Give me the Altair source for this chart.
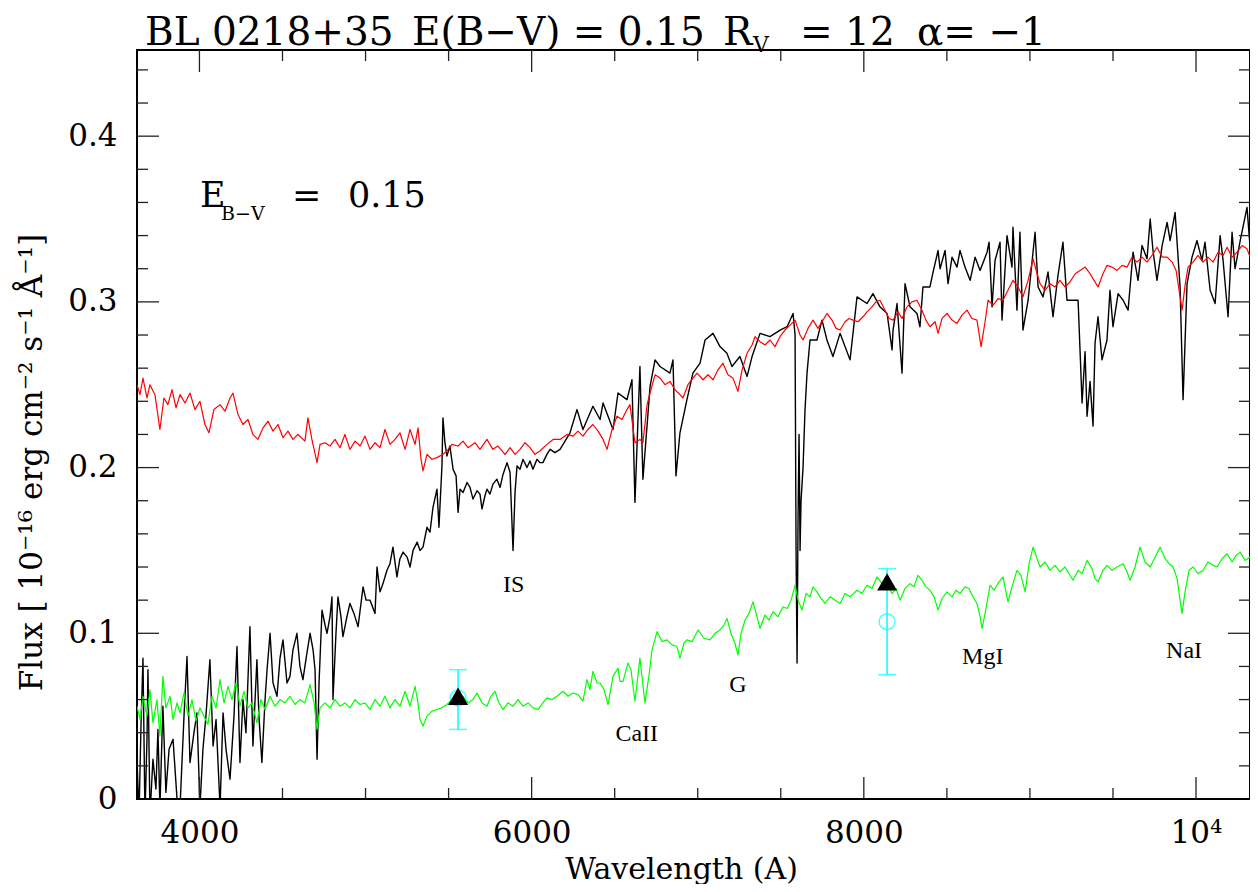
import altair as alt
import pandas as pd

# ---------------- data ----------------
# observed spectrum (wavelength [A], flux)
black_points = [
    (3624,0.024),(3636,-0.01),(3648,0.044),(3660,0.085),(3672,-0.01),(3684,0.036),(3690,0.078),(3702,-0.01),
    (3720,0.024),(3738,0.006),(3750,0.042),(3762,-0.005),(3780,0.056),(3798,0.004),(3817,0.030),(3841,0.036),
    (3865,0.0),(3883,-0.005),(3907,0.05),(3925,0.086),(3943,0.022),(3967,0.040),(3985,0.052),(4003,-0.005),
    (4021,0.030),(4039,0.050),(4063,0.084),(4082,0.032),(4100,0.048),(4124,-0.005),(4142,0.052),(4160,0.030),
    (4184,0.012),(4208,0.050),(4226,0.092),(4244,0.022),(4262,0.060),(4280,0.040),(4304,0.104),(4322,0.032),
    (4346,0.084),(4358,0.050),(4376,0.022),(4395,0.060),(4407,0.078),(4425,0.100),(4443,0.070),(4467,0.062),
    (4485,0.085),(4503,0.096),(4527,0.070),(4545,0.074),(4563,0.090),(4587,0.100),(4605,0.080),(4623,0.072),
    (4647,0.088),(4666,0.100),(4684,0.090),(4696,0.078),(4708,0.024),(4720,0.070),(4738,0.114),(4756,0.105),
    (4768,0.100),(4786,0.110),(4798,0.122),(4804,0.060),(4822,0.100),(4834,0.122),(4852,0.110),(4864,0.098),
    (4888,0.110),(4906,0.118),(4930,0.112),(4955,0.104),(4985,0.128),(5003,0.120),(5027,0.120),(5057,0.112),
    (5069,0.140),(5087,0.125),(5105,0.130),(5129,0.138),(5147,0.142),(5165,0.152),(5189,0.134),(5207,0.145),
    (5226,0.149),(5250,0.146),(5268,0.140),(5286,0.150),(5311,0.155),(5328,0.150),(5346,0.152),(5370,0.164),
    (5388,0.161),(5406,0.176),(5430,0.187),(5442,0.164),(5460,0.201),(5466,0.230),(5478,0.215),(5490,0.207),
    (5508,0.213),(5527,0.199),(5545,0.195),(5557,0.173),(5569,0.187),(5587,0.185),(5611,0.191),(5629,0.188),
    (5647,0.181),(5671,0.186),(5689,0.184),(5701,0.175),(5719,0.183),(5731,0.187),(5749,0.184),(5767,0.190),
    (5791,0.193),(5810,0.188),(5828,0.196),(5852,0.203),(5870,0.197),(5888,0.150),(5900,0.185),(5912,0.201),
    (5930,0.199),(5948,0.205),(5972,0.200),(5990,0.204),(6008,0.199),(6032,0.205),(6050,0.203),(6068,0.203),
    (6092,0.208),(6111,0.211),(6140,0.209),(6171,0.211),(6231,0.221),(6273,0.235),(6309,0.223),(6369,0.237),
    (6412,0.229),(6430,0.239),(6490,0.223),(6520,0.245),(6574,0.241),(6604,0.253),(6622,0.179),(6652,0.261),
    (6670,0.193),(6713,0.249),(6743,0.265),(6773,0.261),(6833,0.257),(6851,0.265),(6869,0.195),(6893,0.221),
    (6935,0.241),(6971,0.257),(7014,0.263),(7044,0.277),(7092,0.281),(7134,0.273),(7176,0.269),(7206,0.261),
    (7254,0.267),(7297,0.255),(7327,0.267),(7375,0.281),(7435,0.279),(7496,0.283),(7538,0.285),(7574,0.293),
    (7586,0.280),(7592,0.150),(7598,0.082),(7604,0.170),(7610,0.220),(7616,0.150),(7622,0.180),(7634,0.200),
    (7646,0.235),(7658,0.257),(7676,0.277),(7718,0.277),(7748,0.289),(7778,0.277),(7814,0.267),(7857,0.281),
    (7917,0.265),(7959,0.303),(8019,0.299),(8055,0.305),(8097,0.297),(8140,0.293),(8170,0.271),(8176,0.283),
    (8200,0.299),(8230,0.257),(8248,0.311),(8278,0.297),(8320,0.293),(8338,0.285),(8356,0.309),(8398,0.309),
    (8417,0.318),(8447,0.331),(8459,0.320),(8489,0.331),(8507,0.311),(8531,0.327),(8561,0.321),(8579,0.331),
    (8609,0.321),(8640,0.313),(8670,0.327),(8700,0.319),(8742,0.330),(8754,0.336),(8772,0.297),(8790,0.325),
    (8820,0.336),(8832,0.289),(8862,0.340),(8892,0.321),(8898,0.345),(8922,0.295),(8940,0.342),(8958,0.283),
    (8989,0.301),(9031,0.342),(9049,0.309),(9079,0.303),(9109,0.318),(9139,0.291),(9169,0.316),(9199,0.336),
    (9223,0.301),(9254,0.301),(9290,0.301),(9314,0.239),(9332,0.270),(9344,0.231),(9362,0.252),(9380,0.225),
    (9392,0.275),(9410,0.291),(9434,0.265),(9464,0.277),(9482,0.307),(9500,0.285),(9531,0.305),(9561,0.301),
    (9591,0.295),(9621,0.330),(9651,0.313),(9675,0.334),(9705,0.326),(9724,0.350),(9741,0.331),(9765,0.313),
    (9796,0.334),(9826,0.348),(9844,0.337),(9874,0.354),(9892,0.327),(9904,0.309),(9922,0.241),(9946,0.311),
    (9976,0.327),(10006,0.337),(10036,0.325),(10054,0.336),(10085,0.307),(10115,0.299),(10145,0.340),(10163,0.325),
    (10193,0.291),(10217,0.342),(10235,0.320),(10266,0.337),(10307,0.357),(10337,0.318),(10355,0.333),(10373,0.331),
]

# reddened template (red)
red_points = [
    (3624,0.250),(3642,0.244),(3660,0.254),(3684,0.242),(3702,0.250),(3732,0.244),(3762,0.223),(3786,0.242),
    (3810,0.238),(3835,0.247),(3859,0.236),(3883,0.244),(3913,0.239),(3943,0.245),(3973,0.235),(4003,0.240),
    (4033,0.226),(4057,0.221),(4087,0.235),(4124,0.238),(4154,0.234),(4184,0.242),(4202,0.245),(4232,0.232),
    (4262,0.226),(4292,0.229),(4322,0.220),(4352,0.217),(4383,0.224),(4413,0.228),(4443,0.222),(4473,0.226),
    (4503,0.218),(4533,0.222),(4563,0.217),(4593,0.220),(4635,0.216),(4653,0.230),(4677,0.217),(4708,0.203),
    (4726,0.214),(4756,0.215),(4786,0.213),(4816,0.217),(4846,0.212),(4876,0.220),(4906,0.211),(4937,0.216),
    (4967,0.213),(4997,0.219),(5027,0.211),(5057,0.215),(5087,0.212),(5117,0.223),(5147,0.214),(5177,0.217),
    (5207,0.221),(5238,0.211),(5268,0.223),(5298,0.214),(5316,0.224),(5334,0.205),(5346,0.198),(5370,0.208),
    (5400,0.205),(5430,0.206),(5466,0.208),(5490,0.210),(5520,0.214),(5557,0.213),(5587,0.216),(5617,0.212),
    (5659,0.215),(5689,0.211),(5731,0.217),(5767,0.211),(5797,0.213),(5840,0.208),(5870,0.212),(5900,0.208),
    (5930,0.211),(5960,0.215),(5990,0.212),(6020,0.208),(6050,0.210),(6092,0.214),(6129,0.217),(6171,0.217),
    (6213,0.220),(6249,0.219),(6279,0.222),(6309,0.219),(6339,0.223),(6369,0.226),(6400,0.222),(6430,0.217),
    (6454,0.211),(6484,0.223),(6514,0.231),(6544,0.229),(6574,0.235),(6592,0.238),(6622,0.215),(6652,0.217),
    (6670,0.215),(6695,0.238),(6713,0.245),(6743,0.256),(6773,0.254),(6803,0.250),(6833,0.252),(6863,0.247),
    (6893,0.244),(6911,0.242),(6941,0.250),(6971,0.254),(6996,0.257),(7032,0.253),(7062,0.256),(7092,0.253),
    (7122,0.259),(7152,0.263),(7182,0.256),(7212,0.254),(7242,0.246),(7267,0.259),(7297,0.269),(7327,0.274),
    (7345,0.279),(7375,0.276),(7405,0.274),(7435,0.277),(7465,0.273),(7495,0.279),(7525,0.283),(7556,0.286),
    (7586,0.289),(7616,0.280),(7634,0.277),(7664,0.284),(7694,0.289),(7724,0.284),(7754,0.289),(7778,0.293),
    (7808,0.289),(7833,0.284),(7857,0.283),(7887,0.288),(7911,0.290),(7935,0.289),(7965,0.288),(7995,0.291),
    (8019,0.294),(8049,0.297),(8073,0.300),(8097,0.301),(8128,0.295),(8152,0.290),(8176,0.289),(8206,0.294),
    (8230,0.290),(8260,0.297),(8290,0.300),(8320,0.301),(8350,0.295),(8374,0.289),(8398,0.285),(8429,0.288),
    (8447,0.281),(8471,0.290),(8501,0.293),(8531,0.289),(8561,0.287),(8591,0.292),(8621,0.295),(8651,0.290),
    (8681,0.289),(8706,0.273),(8730,0.288),(8748,0.301),(8778,0.298),(8808,0.302),(8838,0.301),(8868,0.307),
    (8898,0.313),(8928,0.309),(8958,0.303),(8989,0.313),(9019,0.326),(9043,0.317),(9061,0.311),(9091,0.307),
    (9121,0.311),(9151,0.309),(9181,0.313),(9211,0.309),(9241,0.312),(9272,0.317),(9302,0.319),(9332,0.321),
    (9362,0.317),(9386,0.313),(9410,0.309),(9440,0.317),(9464,0.322),(9494,0.321),(9524,0.319),(9555,0.322),
    (9585,0.321),(9615,0.327),(9645,0.324),(9675,0.327),(9705,0.324),(9735,0.328),(9765,0.333),(9796,0.327),
    (9826,0.327),(9856,0.324),(9880,0.319),(9898,0.307),(9916,0.295),(9934,0.310),(9952,0.321),(9982,0.324),
    (10012,0.328),(10042,0.324),(10072,0.327),(10103,0.324),(10133,0.330),(10163,0.328),(10187,0.333),(10217,0.327),
    (10247,0.330),(10277,0.334),(10307,0.332),(10337,0.324),(10367,0.318),
]

# host template (green)
green_points = [
    (3624,0.056),(3642,0.048),(3660,0.062),(3684,0.050),(3702,0.066),(3720,0.046),(3744,0.060),(3762,0.038),
    (3780,0.074),(3798,0.055),(3823,0.062),(3841,0.048),(3865,0.058),(3883,0.052),(3907,0.064),(3931,0.050),
    (3955,0.060),(3979,0.047),(4003,0.055),(4027,0.050),(4051,0.045),(4075,0.062),(4100,0.055),(4124,0.072),
    (4148,0.058),(4172,0.068),(4196,0.060),(4220,0.070),(4244,0.056),(4268,0.065),(4292,0.055),(4316,0.058),
    (4346,0.046),(4370,0.060),(4395,0.054),(4425,0.062),(4455,0.056),(4485,0.060),(4515,0.058),(4545,0.062),
    (4575,0.057),(4605,0.060),(4635,0.058),(4666,0.069),(4690,0.058),(4708,0.042),(4726,0.055),(4756,0.058),
    (4786,0.055),(4816,0.060),(4846,0.056),(4876,0.058),(4906,0.055),(4937,0.060),(4967,0.057),(4997,0.058),
    (5027,0.054),(5057,0.060),(5087,0.056),(5117,0.062),(5147,0.055),(5177,0.060),(5207,0.056),(5238,0.065),
    (5268,0.056),(5298,0.068),(5316,0.058),(5328,0.048),(5346,0.044),(5370,0.050),(5400,0.053),(5430,0.054),
    (5460,0.055),(5490,0.057),(5520,0.060),(5557,0.061),(5587,0.062),(5617,0.058),(5647,0.060),(5671,0.064),
    (5701,0.058),(5731,0.056),(5755,0.062),(5779,0.065),(5803,0.058),(5828,0.054),(5858,0.058),(5888,0.056),
    (5918,0.060),(5948,0.056),(5978,0.058),(6008,0.055),(6038,0.054),(6068,0.058),(6092,0.061),(6123,0.060),
    (6153,0.062),(6189,0.065),(6219,0.062),(6249,0.064),(6279,0.063),(6309,0.059),(6333,0.072),(6351,0.066),
    (6369,0.077),(6394,0.070),(6412,0.070),(6436,0.066),(6460,0.057),(6490,0.074),(6520,0.079),(6532,0.071),
    (6550,0.071),(6580,0.082),(6598,0.078),(6622,0.059),(6652,0.085),(6682,0.058),(6707,0.075),(6725,0.090),
    (6755,0.101),(6785,0.095),(6815,0.096),(6845,0.093),(6875,0.092),(6893,0.085),(6917,0.094),(6935,0.096),
    (6966,0.095),(7002,0.102),(7038,0.097),(7074,0.096),(7104,0.100),(7134,0.102),(7158,0.105),(7176,0.109),
    (7200,0.100),(7224,0.094),(7242,0.087),(7261,0.100),(7285,0.108),(7309,0.112),(7333,0.119),(7357,0.110),
    (7375,0.103),(7405,0.111),(7429,0.108),(7453,0.113),(7483,0.110),(7513,0.116),(7538,0.115),(7562,0.120),
    (7586,0.129),(7604,0.120),(7628,0.114),(7652,0.124),(7676,0.122),(7694,0.128),(7718,0.125),(7736,0.122),
    (7766,0.118),(7797,0.122),(7827,0.120),(7857,0.118),(7887,0.124),(7917,0.122),(7959,0.126),(7989,0.124),
    (8019,0.129),(8049,0.127),(8079,0.134),(8110,0.130),(8140,0.130),(8170,0.124),(8194,0.127),(8218,0.120),
    (8248,0.127),(8278,0.130),(8302,0.128),(8326,0.135),(8350,0.132),(8374,0.128),(8398,0.126),(8423,0.122),
    (8447,0.114),(8471,0.121),(8501,0.125),(8531,0.122),(8555,0.126),(8579,0.124),(8609,0.128),(8633,0.127),
    (8657,0.122),(8681,0.118),(8700,0.110),(8712,0.103),(8730,0.112),(8760,0.129),(8784,0.126),(8814,0.131),
    (8838,0.134),(8868,0.119),(8892,0.128),(8922,0.138),(8946,0.135),(8971,0.125),(8995,0.142),(9019,0.152),
    (9043,0.145),(9061,0.140),(9091,0.143),(9121,0.138),(9151,0.141),(9181,0.137),(9211,0.140),(9241,0.135),
    (9260,0.132),(9290,0.138),(9314,0.136),(9344,0.144),(9374,0.139),(9392,0.133),(9410,0.131),(9440,0.138),
    (9464,0.141),(9494,0.138),(9524,0.140),(9561,0.142),(9585,0.137),(9603,0.132),(9633,0.140),(9663,0.152),
    (9693,0.143),(9724,0.140),(9754,0.146),(9784,0.152),(9814,0.145),(9838,0.142),(9862,0.140),(9886,0.133),
    (9904,0.120),(9916,0.112),(9934,0.125),(9958,0.138),(9982,0.140),(10012,0.136),(10042,0.138),(10072,0.143),
    (10103,0.141),(10127,0.140),(10157,0.145),(10187,0.148),(10217,0.143),(10241,0.147),(10266,0.149),(10295,0.144),
    (10326,0.146),(10349,0.150),(10367,0.130),
]

# photometric points with error bars (cyan) and model values (black triangles)
phot_wave = [5557, 8140]
phot_flux = [0.061, 0.107]
phot_lo = [0.042, 0.075]
phot_hi = [0.078, 0.139]
model_flux = [0.062, 0.131]

# absorption line labels
line_names = ["IS", "CaII", "G", "MgI", "NaI"]
line_wave = [5892, 6633, 7242, 8716, 9928]
line_flux = [0.1247, 0.0348, 0.0648, 0.0817, 0.0853]

# E(B-V) annotation pieces
ebv_main_text = ["E", "=", "0.15"]
ebv_main_wave = [4003, 4557, 4894]
ebv_main_flux = [0.3575, 0.3575, 0.3575]
ebv_sub_text = ["B−V"]
ebv_sub_wave = [4130]
ebv_sub_flux = [0.3497]

# title pieces (text)
title_words = ["BL 0218+35", "E(B−V) = 0.15", "R", "= 12", "α= −1"]
title_subscript = "V"

# axis ticks
x_major = [4000, 6000, 8000, 10000]
x_minor = [4500, 5000, 5500, 6500, 7000, 7500, 8500, 9000, 9500]
y_labels = [0, 0.1, 0.2, 0.3, 0.4]
y_major = [0.1, 0.2, 0.3, 0.4]
y_minor = [0.02, 0.04, 0.06, 0.08, 0.12, 0.14, 0.16, 0.18, 0.22, 0.24, 0.26,
           0.28, 0.32, 0.34, 0.36, 0.38, 0.42, 0.44]

# ---------------- chart ----------------
SERIF = "DejaVu Serif"
W, H = 1113, 749
XS = alt.Scale(domain=[3624, 10325], nice=False, zero=False)
YS = alt.Scale(domain=[0, 0.452], nice=False, zero=False)
TICK = "#222222"
CYAN = "#00ffff"

X_AXIS = alt.Axis(
    values=x_major,
    labelExpr="datum.value == 10000 ? '10⁴' : format(datum.value, 'd')",
    ticks=False, tickSize=0, domain=False, grid=False,
    labelFont=SERIF, labelFontSize=31, labelColor="black",
    labelPadding=43, labelBaseline="alphabetic", labelFlush=False, labelOverlap=False,
    title="Wavelength (A)", titleFont=SERIF, titleFontSize=30, titleFontWeight="normal",
    titleColor="black", titleX=544, titleY=79, titleAlign="center", titleBaseline="alphabetic",
)
Y_AXIS = alt.Axis(
    values=y_labels, format=".1~f",
    ticks=False, tickSize=0, domain=False, grid=False,
    labelFont=SERIF, labelFontSize=31, labelColor="black",
    labelPadding=20, labelAlign="right", labelBaseline="middle", labelFlush=False, labelOverlap=False,
    title="Flux [ 10⁻¹⁶ erg cm⁻² s⁻¹ Å⁻¹]", titleFont=SERIF, titleFontSize=31,
    titleFontWeight="normal", titleColor="black", titleAngle=270,
    titleX=-96, titleY=412, titleAlign="center", titleBaseline="alphabetic",
)


def X(field="wave"):
    return alt.X(f"{field}:Q", scale=XS, axis=X_AXIS)


def Y(field="flux"):
    return alt.Y(f"{field}:Q", scale=YS, axis=Y_AXIS)


def spec_df(points):
    return pd.DataFrame({"wave": [p[0] for p in points], "flux": [p[1] for p in points]})


def spectrum(points, color, width):
    return alt.Chart(spec_df(points)).mark_line(
        color=color, strokeWidth=width, clip=True, strokeJoin="round"
    ).encode(x=X(), y=Y(), order="wave:Q")


black_line = spectrum(black_points, "black", 1.4)
green_line = spectrum(green_points, "#00ff00", 1.2)
red_line = spectrum(red_points, "#ff0000", 1.2)

phot_df = pd.DataFrame({"wave": phot_wave, "flux": phot_flux, "lo": phot_lo,
                        "hi": phot_hi, "model": model_flux})
pb = alt.Chart(phot_df)
err_rule = pb.mark_rule(color=CYAN, strokeWidth=1.5).encode(x=X(), y=Y("lo"), y2="hi:Q")
cap_lo = pb.mark_tick(color=CYAN, orient="horizontal", size=18, thickness=1.5).encode(x=X(), y=Y("lo"))
cap_hi = pb.mark_tick(color=CYAN, orient="horizontal", size=18, thickness=1.5).encode(x=X(), y=Y("hi"))
circles = pb.mark_point(shape="circle", filled=False, color=CYAN, size=254, strokeWidth=1.5).encode(
    x=X(), y=Y())
triangles = pb.mark_point(shape="triangle-up", filled=True, color="black", size=400, opacity=1).encode(
    x=X(), y=Y("model"))

lab_df = pd.DataFrame({"name": line_names, "wave": line_wave, "flux": line_flux})
line_text = alt.Chart(lab_df).mark_text(
    font="Liberation Serif", fontSize=24, color="black", align="center", baseline="alphabetic"
).encode(x=X(), y=Y(), text="name:N")

ebv_main = alt.Chart(pd.DataFrame({"t": ebv_main_text, "wave": ebv_main_wave, "flux": ebv_main_flux})).mark_text(
    font=SERIF, fontSize=35, color="black", align="left", baseline="alphabetic"
).encode(x=X(), y=Y(), text="t:N")
ebv_sub = alt.Chart(pd.DataFrame({"t": ebv_sub_text, "wave": ebv_sub_wave, "flux": ebv_sub_flux})).mark_text(
    font=SERIF, fontSize=19, color="black", align="left", baseline="alphabetic"
).encode(x=X(), y=Y(), text="t:N")


def xticks(values, y0, y1):
    return alt.Chart(pd.DataFrame({"wave": values})).mark_rule(color=TICK, strokeWidth=1.3).encode(
        x=X(), y=alt.value(y0), y2=alt.value(y1))


def yticks(values, x0, x1):
    return alt.Chart(pd.DataFrame({"flux": values})).mark_rule(color=TICK, strokeWidth=1.3).encode(
        y=Y(), x=alt.value(x0), x2=alt.value(x1))


tick_layers = [
    xticks(x_major, H, H - 22), xticks(x_minor, H, H - 11),
    xticks(x_major, 0, 22), xticks(x_minor, 0, 11),
    yticks(y_major, 0, 22), yticks(y_minor, 0, 11),
    yticks(y_major, W, W - 22), yticks(y_minor, W, W - 11),
]

one = pd.DataFrame({"k": [0]})


def title_piece(text, px, py, size):
    return alt.Chart(one).mark_text(
        text=text, font=SERIF, fontSize=size, color="black",
        align="left", baseline="alphabetic").encode(x=alt.value(px), y=alt.value(py))


title_layers = [
    title_piece(title_words[0], 8, -5, 39),
    title_piece(title_words[1], 275, -5, 39),
    title_piece(title_words[2], 586, -5, 39),
    title_piece(title_subscript, 616, 2, 22),
    title_piece(title_words[3], 663, -5, 39),
    title_piece(title_words[4], 780, -5, 39),
]

chart = alt.layer(
    black_line, green_line, red_line,
    err_rule, cap_lo, cap_hi, circles, triangles,
    line_text, ebv_main, ebv_sub,
    *tick_layers,
    *title_layers,
).properties(
    width=W, height=H,
    autosize=alt.AutoSizeParams(type="none"),
    padding={"left": 129, "top": 42, "right": 0, "bottom": 85},
    background="white",
).configure_view(stroke="black", strokeWidth=2)

chart.save("out.html", embed_options={"renderer": "svg", "actions": False})
